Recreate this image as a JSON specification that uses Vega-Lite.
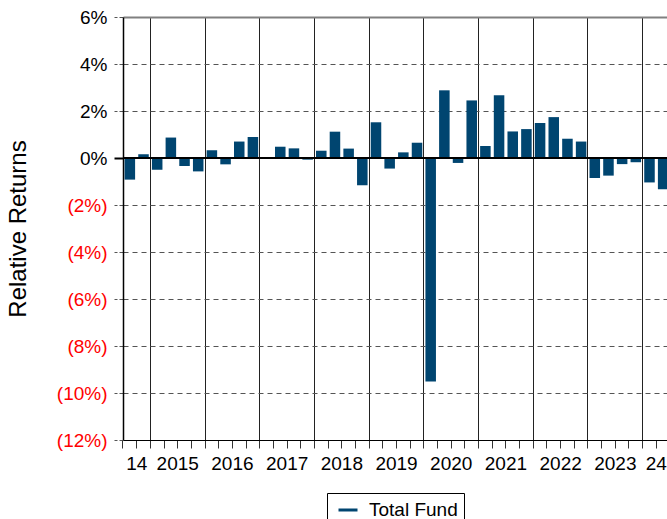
{
  "$schema": "https://vega.github.io/schema/vega-lite/v6.json",
  "width": 544,
  "height": 423,
  "autosize": {"type": "none"},
  "padding": {"left": 123, "top": 17, "right": 0, "bottom": 79},
  "config": {
    "view": {"stroke": null},
    "font": "Liberation Sans"
  },
  "data": {
    "values": [
      {"q": "2014Q3", "value": -0.92},
      {"q": "2014Q4", "value": 0.16},
      {"q": "2015Q1", "value": -0.50},
      {"q": "2015Q2", "value": 0.87},
      {"q": "2015Q3", "value": -0.34},
      {"q": "2015Q4", "value": -0.57},
      {"q": "2016Q1", "value": 0.33},
      {"q": "2016Q2", "value": -0.27},
      {"q": "2016Q3", "value": 0.70},
      {"q": "2016Q4", "value": 0.89},
      {"q": "2017Q1", "value": -0.04},
      {"q": "2017Q2", "value": 0.48},
      {"q": "2017Q3", "value": 0.41},
      {"q": "2017Q4", "value": -0.07},
      {"q": "2018Q1", "value": 0.31},
      {"q": "2018Q2", "value": 1.12},
      {"q": "2018Q3", "value": 0.40},
      {"q": "2018Q4", "value": -1.16},
      {"q": "2019Q1", "value": 1.52},
      {"q": "2019Q2", "value": -0.45},
      {"q": "2019Q3", "value": 0.24},
      {"q": "2019Q4", "value": 0.65},
      {"q": "2020Q1", "value": -9.51},
      {"q": "2020Q2", "value": 2.88},
      {"q": "2020Q3", "value": -0.21},
      {"q": "2020Q4", "value": 2.45},
      {"q": "2021Q1", "value": 0.51},
      {"q": "2021Q2", "value": 2.67},
      {"q": "2021Q3", "value": 1.13},
      {"q": "2021Q4", "value": 1.23},
      {"q": "2022Q1", "value": 1.49},
      {"q": "2022Q2", "value": 1.74},
      {"q": "2022Q3", "value": 0.82},
      {"q": "2022Q4", "value": 0.70},
      {"q": "2023Q1", "value": -0.85},
      {"q": "2023Q2", "value": -0.75},
      {"q": "2023Q3", "value": -0.26},
      {"q": "2023Q4", "value": -0.18},
      {"q": "2024Q1", "value": -1.04},
      {"q": "2024Q2", "value": -1.33}
    ]
  },
  "layer": [
    {
      "mark": {"type": "bar"},
      "encoding": {
        "x": {
          "field": "q",
          "type": "ordinal",
          "sort": null,
          "scale": {"range": [0, 547], "paddingInner": 0.23, "paddingOuter": 0.115},
          "axis": {
            "title": null,
            "bandPosition": -0.1494,
            "labelAngle": 0,
            "labelOverlap": false,
            "labelBound": false,
            "labelFlush": false,
            "labelFontSize": 19,
            "labelColor": "black",
            "labelPadding": 6,
            "labelOffset": -6.8,
            "labelExpr": "datum.value == '2014Q4' ? '14' : datum.value == '2024Q2' ? '24' : (slice(datum.value, 4) == 'Q3' && datum.value != '2014Q3') ? slice(datum.value, 0, 4) : ''",
            "domainColor": "black",
            "domainWidth": 1,
            "tickColor": "#333",
            "tickSize": 8,
            "tickWidth": 1,
            "grid": true,
            "gridColor": "#222",
            "gridWidth": 1,
            "gridOpacity": {"condition": {"test": "slice(datum.value, 4) == 'Q1'", "value": 1}, "value": 0}
          }
        },
        "y": {
          "field": "value",
          "type": "quantitative",
          "scale": {"domain": [-12, 6], "nice": false, "zero": false},
          "axis": {
            "title": "Relative Returns",
            "titleFontSize": 24,
            "titleFontWeight": "normal",
            "titleColor": "black",
            "titlePadding": 26,
            "values": [-12, -10, -8, -6, -4, -2, 0, 2, 4, 6],
            "labelExpr": "datum.value < 0 ? '(' + (-datum.value) + '%)' : datum.value + '%'",
            "labelFontSize": 19,
            "labelColor": {"condition": {"test": "datum.value < 0", "value": "#ff0000"}, "value": "black"},
            "labelPadding": 7,
            "labelOverlap": false,
            "labelBound": false,
            "labelFlush": false,
            "domainColor": "black",
            "domainWidth": 1.5,
            "tickSize": 9,
            "tickColor": {"condition": {"test": "datum.value == 0", "value": "black"}, "value": "#555"},
            "tickWidth": {"condition": {"test": "datum.value == 0", "value": 2}, "value": 1},
            "tickDash": {"condition": {"test": "datum.value == 0", "value": []}, "value": [4, 2]},
            "grid": true,
            "gridColor": {"condition": {"test": "datum.value == 6", "value": "#808080"}, "value": "#555"},
            "gridWidth": {"condition": {"test": "datum.value == 6", "value": 2}, "value": 1},
            "gridDash": {"condition": {"test": "datum.value == 6 || datum.value == 0", "value": []}, "value": [5, 4]}
          }
        },
        "color": {
          "datum": "Total Fund",
          "type": "nominal",
          "scale": {"range": ["#004570"]},
          "legend": {
            "title": null,
            "orient": "none",
            "legendX": 204,
            "legendY": 476,
            "symbolType": "stroke",
            "symbolSize": 361,
            "symbolStrokeWidth": 3,
            "symbolStrokeColor": "#004570",
            "labelFontSize": 19,
            "labelColor": "black",
            "labelOffset": 10,
            "strokeColor": "black",
            "fillColor": "white",
            "padding": 6,
            "symbolOffset": 4,
            "encode": {
              "symbols": {"update": {"stroke": {"value": "#004570"}, "strokeWidth": {"value": 3}}}
            }
          }
        }
      }
    },
    {
      "mark": {"type": "rule", "color": "black", "strokeWidth": 2},
      "encoding": {"y": {"datum": 0}}
    }
  ]
}
